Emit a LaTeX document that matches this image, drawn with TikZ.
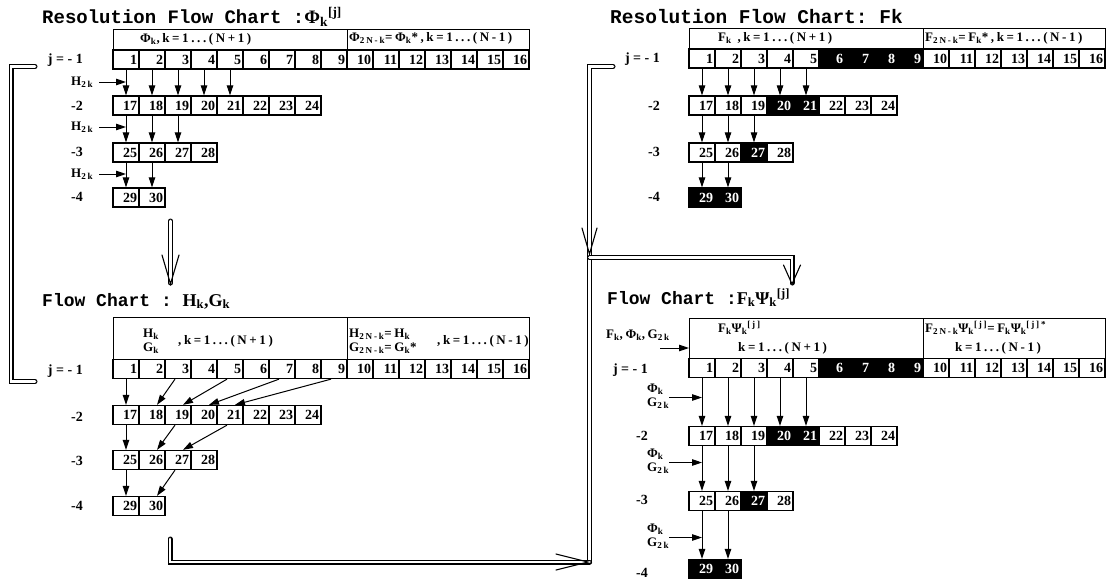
\documentclass[tikz,border=0pt]{standalone}
\usepackage{fontspec}
\setmainfont{Liberation Serif}
\setmonofont{Liberation Mono}
\newfontfamily\hfont[LetterSpace=20]{Liberation Serif}
\usetikzlibrary{arrows.meta}
\newcommand\mkrow[6]{%
  \foreach \n in {#4,...,#5}{%
    \pgfmathsetmacro\xx{#2+26*(\n-#4)+13}%
    \pgfmathtruncatemacro\isdk{#6*((\n>5)*(\n<10)+(\n>19)*(\n<22)+(\n==27)+(\n>28))}%
    \ifnum\isdk>0 \def\cst{dcell}\else\def\cst{cell}\fi
    \node[\cst] (#1\n) at (\xx,#3) {\n};
  }}
\begin{document}
\begin{tikzpicture}[x=1pt,y=-1pt,
  cell/.style={draw, line width=1.3pt, minimum width=26pt, minimum height=19pt, inner sep=0pt, text width=22pt, align=right, font=\bfseries\fontsize{14}{14}\selectfont},
  dcell/.style={cell, fill=black, text=white},
  hdr/.style={draw, line width=1.3pt, inner sep=0pt, anchor=north west},
  htxt/.style={inner sep=0pt, anchor=west, font=\hfont\bfseries\fontsize{13}{14}\selectfont},
  lbl/.style={inner sep=0pt, anchor=east, font=\bfseries\fontsize{14}{14}\selectfont},
  slbl/.style={inner sep=0pt, anchor=west, align=left, font=\hfont\bfseries\fontsize{13}{14}\selectfont},
  ttl/.style={inner sep=0pt, anchor=west, font=\ttfamily\bfseries\fontsize{19}{20}\selectfont},
  arr/.style={-{Triangle[length=10pt,width=6.5pt]}, line width=1pt},
  dbl/.style={double, double distance=2.8pt, line width=1.1pt, line cap=round},
  barb/.style={line width=1.1pt, line cap=round},
]
\useasboundingbox (0,0) rectangle (1117,587);

%%%%%%%%%%%%%%%% Chart A : Resolution Flow Chart Phi
\node[ttl] (tA) at (42,17) {Resolution Flow Chart :{\rmfamily\bfseries Φ\textsubscript{k}\textsuperscript{[j]}}};
\node[hdr, minimum width=234pt, minimum height=21pt] (hAL) at (113,29) {};
\node[hdr, minimum width=182pt, minimum height=21pt] (hAR) at (347,29) {};
\node[htxt] (xAL) at (140,39) {Φ\textsubscript{k},k=1...(N+1)};
\node[htxt] (xAR) at (349,38) {Φ\textsubscript{2N-k}=Φ\textsubscript{k}*,k=1...(N-1)};
\mkrow{A}{113}{59.5}{1}{16}{0}
\mkrow{A}{113}{105.5}{17}{24}{0}
\mkrow{A}{113}{152.5}{25}{28}{0}
\mkrow{A}{113}{197.5}{29}{30}{0}
\node[lbl] (jA1) at (83,60) {j = - 1};
\node[lbl] (jA2) at (83,106) {-2};
\node[lbl] (jA3) at (83,152) {-3};
\node[lbl] (jA4) at (83,197) {-4};
\foreach \a/\b in {1/17,2/18,3/19,4/20,5/21,17/25,18/26,19/27,25/29,26/30}
  \draw[arr] (A\a) -- (A\b);
\node[slbl] (hA1) at (71,82) {H\textsubscript{2k}};
\node[slbl] (hA2) at (71,127) {H\textsubscript{2k}};
\node[slbl] (hA3) at (71,174) {H\textsubscript{2k}};
\foreach \h in {hA1,hA2,hA3}
  \draw[arr] ([xshift=6pt]\h.east) -- (\h.east -| A1.center);

%%%%%%%%%%%%%%%% Chart B : Resolution Flow Chart Fk
\node[ttl, font=\ttfamily\bfseries\fontsize{19.5}{20}\selectfont] (tB) at (610,17) {Resolution Flow Chart: Fk};
\node[hdr, minimum width=234pt, minimum height=21pt] (hBL) at (689,28) {};
\node[hdr, minimum width=182pt, minimum height=21pt] (hBR) at (923,28) {};
\node[htxt] (xBL) at (718,38) {F\textsubscript{k} ,k=1...(N+1)};
\node[htxt] (xBR) at (925,38) {F\textsubscript{2N-k}=F\textsubscript{k}*,k=1...(N-1)};
\mkrow{B}{689}{58.5}{1}{16}{1}
\mkrow{B}{689}{105.5}{17}{24}{1}
\mkrow{B}{689}{152.5}{25}{28}{1}
\mkrow{B}{689}{197.5}{29}{30}{1}
\node[lbl] (jB1) at (660,59) {j = - 1};
\node[lbl] (jB2) at (660,106) {-2};
\node[lbl] (jB3) at (660,152) {-3};
\node[lbl] (jB4) at (660,197) {-4};
\foreach \a/\b in {1/17,2/18,3/19,4/20,5/21,17/25,18/26,19/27,25/29,26/30}
  \draw[arr] (B\a) -- (B\b);

%%%%%%%%%%%%%%%% Chart C : Flow Chart Hk,Gk
\node[ttl, font=\ttfamily\bfseries\fontsize{18}{20}\selectfont] (tC) at (42,301) {Flow Chart : {\rmfamily\bfseries H\textsubscript{k},G\textsubscript{k}}};
\node[hdr, minimum width=234pt, minimum height=42pt] (hCL) at (113,317) {};
\node[hdr, minimum width=182pt, minimum height=42pt] (hCR) at (347,317) {};
\node[slbl] (xCL1) at (143,341) {H\textsubscript{k}\\G\textsubscript{k}};
\node[htxt] (xCL2) at (178,341) {,k=1...(N+1)};
\node[slbl] (xCR1) at (349,341) {H\textsubscript{2N-k}=H\textsubscript{k}\\G\textsubscript{2N-k}=G\textsubscript{k}*};
\node[htxt] (xCR2) at (437,341) {,k=1...(N-1)};
\mkrow{C}{113}{369}{1}{16}{0}
\mkrow{C}{113}{415}{17}{24}{0}
\mkrow{C}{113}{460}{25}{28}{0}
\mkrow{C}{113}{506}{29}{30}{0}
\node[lbl] (jC1) at (83,371) {j = - 1};
\node[lbl] (jC2) at (83,417) {-2};
\node[lbl] (jC3) at (83,461) {-3};
\node[lbl] (jC4) at (83,506) {-4};
\foreach \a/\b in {1/17,17/25,25/29}
  \draw[arr] (C\a) -- (C\b);
\foreach \a/\b in {3/18,5/19,7/20,9/21,19/26,21/27,27/30}
  \draw[arr] ([xshift=-3pt]C\a.south) -- ([xshift=5pt]C\b.north);

%%%%%%%%%%%%%%%% Chart D : Flow Chart Fk Psi
\node[ttl, font=\ttfamily\bfseries\fontsize{18}{20}\selectfont] (tD) at (607,298) {Flow Chart :{\rmfamily\bfseries F\textsubscript{k}Ψ\textsubscript{k}\textsuperscript{[j]}}};
\node[hdr, minimum width=234pt, minimum height=40pt] (hDL) at (689,318) {};
\node[hdr, minimum width=182pt, minimum height=40pt] (hDR) at (923,318) {};
\node[htxt] (xDL1) at (718,328) {F\textsubscript{k}Ψ\textsubscript{k}\textsuperscript{[j]}};
\node[htxt] (xDL2) at (738,348) {k=1...(N+1)};
\node[htxt] (xDR1) at (925,328) {F\textsubscript{2N-k}Ψ\textsubscript{k}\textsuperscript{[j]}=F\textsubscript{k}Ψ\textsubscript{k}\textsuperscript{[j]*}};
\node[htxt] (xDR2) at (955,348) {k=1...(N-1)};
\mkrow{D}{689}{368}{1}{16}{1}
\mkrow{D}{689}{436}{17}{24}{1}
\mkrow{D}{689}{501}{25}{28}{1}
\mkrow{D}{689}{569}{29}{30}{1}
\node[lbl] (jD1) at (648,370) {j = - 1};
\node[lbl] (jD2) at (648,436) {-2};
\node[lbl] (jD3) at (648,500) {-3};
\node[lbl] (jD4) at (648,573) {-4};
\foreach \a/\b in {1/17,2/18,3/19,4/20,5/21,17/25,18/26,19/27,25/29,26/30}
  \draw[arr] (D\a) -- (D\b);
\node[slbl] (fpg) at (606,335) {F\textsubscript{k},Φ\textsubscript{k},G\textsubscript{2k}};
\coordinate (fpgS) at (660,348);
\draw[arr] (fpgS) -- (fpgS -| hDL.west);
\node[slbl] (pgD1) at (647,396) {Φ\textsubscript{k}\\G\textsubscript{2k}};
\node[slbl] (pgD2) at (647,461) {Φ\textsubscript{k}\\G\textsubscript{2k}};
\node[slbl] (pgD3) at (647,536) {Φ\textsubscript{k}\\G\textsubscript{2k}};
\foreach \p in {pgD1,pgD2,pgD3}
  \draw[arr] ([yshift=-1.5pt]\p.east) -- ([yshift=-1.5pt]\p.east -| D1.center);

%%%%%%%%%%%%%%%% Big double-line connectors
% C -> A (left)
\coordinate (cL1) at (35,381.5);
\coordinate (cL2) at (11,381.5);
\coordinate (cL3) at (11,66.5);
\coordinate (cL4) at (35,66.5);
\draw[dbl] (cL1) -- (cL2) -- (cL3) -- (cL4);
% A -> C (middle)
\coordinate (cM1) at (170.5,221);
\coordinate (cM2) at (170.5,283);
\draw[dbl] (cM1) -- (cM2);
\draw[barb] ([shift={(-8.5,-28)}]cM2) -- ([yshift=-1pt]cM2) -- ([shift={(8.5,-28)}]cM2);
% B -> D, and C -> D
\coordinate (cR1) at (613,66.5);
\coordinate (cR2) at (589.5,66.5);
\coordinate (cR3) at (589.5,562);
\coordinate (cRv) at (589.5,254);
\coordinate (cJ1) at (589.5,257.5);
\coordinate (cJ2) at (792,257.5);
\coordinate (cJ3) at (792,283);
\coordinate (cB1) at (170,539);
\coordinate (cB2) at (170,562);
\coordinate (cB3) at (588,562);
\draw[dbl] (cR1) -- (cR2) -- (cR3);
\draw[dbl] (cB1) -- (cB2) -- (cR3);
\draw[dbl] (cJ1) -- (cJ2) -- (cJ3);
\draw[barb] ([shift={(-7.5,-26)}]cRv) -- (cRv) -- ([shift={(7.5,-26)}]cRv);
\draw[barb] ([shift={(-32,-8)}]cB3) -- (cB3) -- ([shift={(-32,8)}]cB3);
\draw[barb] ([shift={(-8.5,-18)}]cJ3) -- ([yshift=-1pt]cJ3) -- ([shift={(8.5,-18)}]cJ3);
\end{tikzpicture}
\end{document}
